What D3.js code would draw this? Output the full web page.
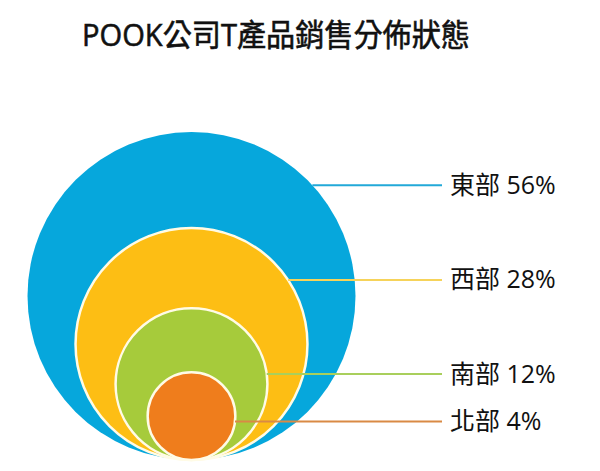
<!DOCTYPE html>
<html>
<head>
<meta charset="utf-8">
<script src="https://cdn.jsdelivr.net/npm/d3@7"></script>
<style>
  body { margin: 0; background: #fff; }
  text { font-family: "Open Sans", "Noto Sans CJK TC", sans-serif; }
</style>
</head>
<body>
<svg id="chart" width="600" height="471"></svg>
<script>
const regions = ["東部", "西部", "南部", "北部"];
const shares = [56, 28, 12, 4];
const colors = ["#06a7dc", "#fdbe14", "#a6cb3b", "#ef7d1c"];
const lineColors = ["#22a9d8", "#f6d35a", "#a9cf5c", "#d98a45"];

const width = 600,
  height = 471,
  cx = 191.5,
  baseY = 460,
  labelX = 450,
  lineEnd = 442,
  // where each leader line sits, as a share of the biggest circle's height
  labelSpots = [0.162, 0.451, 0.738, 0.883];

const svg = d3.select("#chart");

svg
  .append("text")
  .attr("x", 82)
  .attr("y", 46)
  .attr("font-size", 31)
  .attr("fill", "#111")
  .attr("stroke", "#111")
  .attr("stroke-width", 0.6)
  .attr("textLength", 388)
  .attr("lengthAdjust", "spacingAndGlyphs")
  .text("POOK公司T產品銷售分佈狀態");

const r = d3.scaleSqrt().domain([0, d3.max(shares)]).range([0, 164]);
const bigR = r(d3.max(shares));
const y = d3
  .scaleLinear()
  .domain([0, 1])
  .range([baseY - 2 * bigR, baseY]);

const data = regions.map((name, i) => ({
  name,
  value: shares[i],
  color: colors[i],
  lineColor: lineColors[i],
  r: r(shares[i]),
  cy: baseY - r(shares[i]),
  ly: y(labelSpots[i])
}));

svg
  .selectAll("circle.bubble")
  .data(data)
  .enter()
  .append("circle")
  .attr("class", "bubble")
  .attr("cx", cx)
  .attr("cy", d => d.cy)
  .attr("r", d => d.r)
  .attr("fill", d => d.color)
  .attr("stroke", (d, i) => (i === 0 ? "none" : "#fffbe6"))
  .attr("stroke-width", 2.5);

// leader lines start at the edge of their own circle
svg
  .selectAll("line.leader")
  .data(data)
  .enter()
  .append("line")
  .attr("class", "leader")
  .attr("x1", d => {
    let dy = d.ly - d.cy;
    return cx + Math.sqrt(Math.max(0, d.r * d.r - dy * dy));
  })
  .attr("x2", lineEnd)
  .attr("y1", d => d.ly)
  .attr("y2", d => d.ly)
  .attr("stroke", d => d.lineColor)
  .attr("stroke-width", 2);

svg
  .selectAll("text.label")
  .data(data)
  .enter()
  .append("text")
  .attr("class", "label")
  .attr("x", labelX)
  .attr("y", d => d.ly + 8.5)
  .attr("font-size", 25)
  .attr("fill", "#111")
  .text(d => `${d.name} ${d.value}%`);
</script>
</body>
</html>
